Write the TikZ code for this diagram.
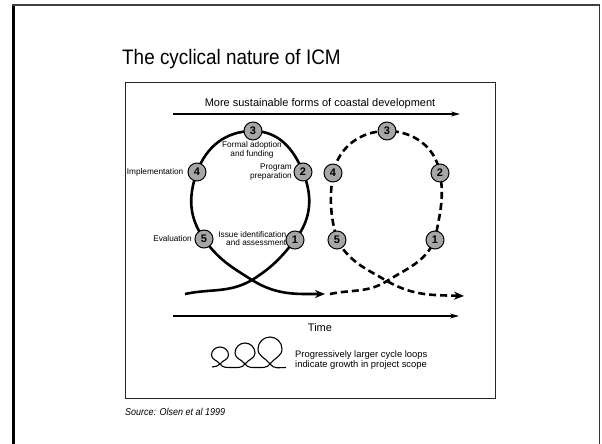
\documentclass[tikz,border=0pt]{standalone}
\usepackage{fontspec}
\setmainfont{Liberation Sans}
\newfontfamily\narrowfont[FakeStretch=0.9]{Liberation Sans}
\usetikzlibrary{arrows.meta}
\pgfdeclarelayer{bg}
\pgfsetlayers{bg,main}

\begin{document}
\begin{tikzpicture}[x=1pt,y=-1pt,
  stage/.style={circle, draw=black, line width=1pt, fill=black!35,
    minimum size=18pt, inner sep=0pt,
    font=\fontsize{11}{12}\selectfont\bfseries},
  lbl/.style={font=\fontsize{8.25}{8.6}\selectfont, inner sep=0pt},
  axistext/.style={font=\fontsize{11}{13}\selectfont, inner sep=0pt},
  solidloop/.style={line width=2.6pt},
  dashloop/.style={line width=2.6pt, dash pattern=on 7pt off 4pt},
  looptip/.style={-{Stealth[length=10pt,width=8pt]}},
  axis/.style={line width=1.2pt, -{Stealth[length=9pt,width=5pt]}},
]
\useasboundingbox (0,0) rectangle (602,444);

% slide frame
\draw[line width=3pt] (13.5,4) -- (13.5,444);
\draw[line width=2pt, black!75] (12,5) -- (600,5);
\draw[line width=1.5pt, black!80] (599.5,4) -- (599.5,444);

% title
\node[anchor=base west, inner sep=0pt,
  font=\narrowfont\fontsize{21}{24}\selectfont] (title) at (122,65)
  {The cyclical nature of ICM};

% figure frame
\draw[line width=1pt, black!85] (125,82) rectangle (495,398);

% development arrow
\coordinate (devA) at (173,114);
\coordinate (devB) at (460,114);
\draw[axis] (devA) -- (devB);
\node[axistext, anchor=base] (devtext) at (320,106.5)
  {More sustainable forms of coastal development};

% time arrow
\coordinate (timeA) at (173,316);
\coordinate (timeB) at (459,316);
\draw[axis] (timeA) -- (timeB);
\node[axistext, anchor=base] (timetext) at (320,331) {Time};

% first cycle (solid)
\node[stage] (s1) at (295,240) {1};
\node[stage] (s2) at (303,172) {2};
\node[stage] (s3) at (253,131) {3};
\node[stage] (s4) at (197,172) {4};
\node[stage] (s5) at (204,239) {5};

\node[lbl, align=center] (l3) at (252,150) {Formal adoption\\and funding};
\node[lbl, align=right, anchor=east] (l2) at (292,172) {Program\\preparation};
\node[lbl, anchor=east] (l4) at (183.5,172) {Implementation};
\node[lbl, anchor=east] (l5) at (192,239) {Evaluation};
\node[lbl, align=right, anchor=east] (l1) at (286.5,238.5) {Issue identification\\and assessment};

\coordinate (sStart) at (185,294);
\coordinate (sCross) at (252,280);
\coordinate (sEnd) at (325,294);

% second cycle (dashed)
\node[stage] (d1) at (435,240) {1};
\node[stage] (d2) at (440,173) {2};
\node[stage] (d3) at (387,131) {3};
\node[stage] (d4) at (333,173) {4};
\node[stage] (d5) at (337,240) {5};

\coordinate (dStart) at (330,294);
\coordinate (dCross) at (387,281);
\coordinate (dEnd) at (464,296);

\begin{pgfonlayer}{bg}
  \draw[solidloop, looptip] (sStart) to[out=12,in=210] (sCross)
    to[out=32,in=232] (s1.center) to[out=52,in=-68] (s2.center)
    to[out=112,in=0] (s3.center) to[out=180,in=70] (s4.center)
    to[out=250,in=125] (s5.center) to[out=-55,in=148] (sCross)
    to[out=-32,in=180] (sEnd);
  \draw[dashloop, looptip] (dStart) to[out=12,in=212] (dCross)
    to[out=32,in=245] (d1.center) to[out=80,in=-80] (d2.center)
    to[out=100,in=0] (d3.center) to[out=180,in=77] (d4.center)
    to[out=262,in=105] (d5.center) to[out=-60,in=150] (dCross)
    to[out=-30,in=178] (dEnd);
\end{pgfonlayer}

% legend: growing loops
\draw[line width=1.1pt]
  (212,367) to[out=15,in=235] (220,364)
  to[out=55,in=-90] (228.5,355) to[out=90,in=0] (220,347)
  to[out=180,in=90] (211.5,355) to[out=-90,in=125] (220,364)
  to[out=-55,in=180] (232,367.5) to[out=0,in=235] (245,364)
  to[out=55,in=-90] (255,353) to[out=90,in=0] (245,343)
  to[out=180,in=90] (235,353) to[out=-90,in=125] (245,364)
  to[out=-55,in=180] (257.5,367.5) to[out=0,in=235] (270,364)
  to[out=55,in=-90] (282,349) to[out=90,in=0] (270,337)
  to[out=180,in=90] (258,349) to[out=-90,in=125] (270,364)
  to[out=-55,in=180] (286,367.5);
\node[anchor=west, align=left, inner sep=0pt,
  font=\fontsize{9.4}{9.6}\selectfont] (legend) at (295,360)
  {Progressively larger cycle loops\\indicate growth in project scope};

% source
\node[anchor=base west, inner sep=0pt,
  font=\narrowfont\itshape\fontsize{10}{12}\selectfont] (source) at (125,415)
  {Source: Olsen et al 1999};
\end{tikzpicture}
\end{document}
